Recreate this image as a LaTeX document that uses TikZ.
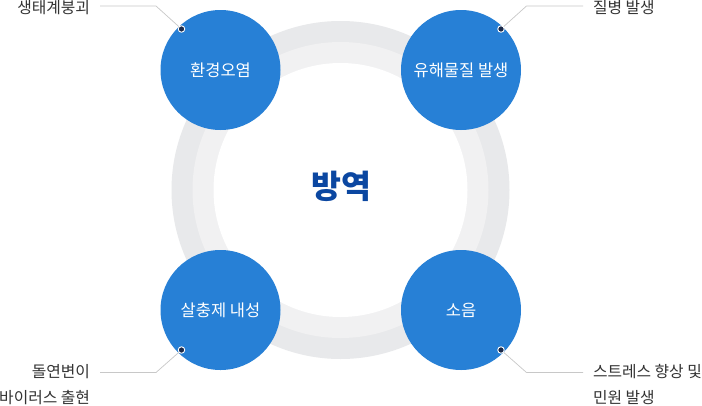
\documentclass[tikz,border=0pt]{standalone}
\usepackage{fontspec}
\setmainfont{Noto Sans CJK KR}
\usetikzlibrary{positioning}
\definecolor{ringout}{HTML}{E8E9EB}
\definecolor{ringin}{HTML}{F1F1F2}
\definecolor{topicblue}{HTML}{2780D6}
\definecolor{titleblue}{HTML}{0B47A1}
\definecolor{dotnavy}{HTML}{1B2A4A}
\definecolor{leadgray}{HTML}{C8C8C8}
\definecolor{labelink}{HTML}{333333}
\tikzset{
  topic/.style={circle,fill=topicblue,minimum size=120pt,inner sep=0pt,
                text=white,font=\fontsize{16.5}{18}\selectfont},
  tipdot/.style={circle,fill=dotnavy,draw=white,line width=0.9pt,
                 minimum size=6.5pt,inner sep=0pt},
  leader/.style={draw=leadgray,line width=0.7pt},
  sidelabel/.style={text=labelink,font=\fontsize{15.8}{26}\selectfont,
                    inner sep=0pt,outer xsep=10pt}
}

\begin{document}
\begin{tikzpicture}[x=1pt,y=-1pt]
  \useasboundingbox[fill=white] (0,0) rectangle (702,405);

  % ring
  \coordinate (ctr) at (340.5,190);
  \fill[ringout] (ctr) circle (169pt);
  \fill[ringin] (ctr) circle (148pt);
  \fill[white] (ctr) circle (127pt);
  \node[text=titleblue,font=\fontsize{32.5}{34}\selectfont\bfseries] (title) at (341,186) {방역};

  % topics
  \node[topic] (envir) at (220.5,70) {환경오염};
  \node[topic] (toxic) at (461,70) {유해물질 발생};
  \node[topic] (resist) at (220.5,310) {살충제 내성};
  \node[topic] (noise) at (461,310) {소음};

  % outer labels
  \node[sidelabel,anchor=east] (l1) at (100,8) {생태계붕괴};
  \node[sidelabel,anchor=west] (l2) at (583,8) {질병 발생};
  \node[sidelabel,anchor=east,align=right] (l3) at (100,385) {돌연변이\\바이러스 출현};
  \node[sidelabel,anchor=west,align=left] (l4) at (583,385) {스트레스 향상 및\\민원 발생};

  \coordinate (b1) at (156,6);
  \coordinate (b2) at (526.5,6);
  \coordinate (b3) at (156,372.5);
  \coordinate (b4) at (526.5,372.5);

  \coordinate (p1) at (181.5,29);
  \coordinate (p2) at (501,29);
  \coordinate (p3) at (181.5,350);
  \coordinate (p4) at (501,350);

  \draw[leader] (p1) -- (b1) -- (b1 -| l1.east);
  \draw[leader] (p2) -- (b2) -- (b2 -| l2.west);
  \draw[leader] (p3) -- (b3) -- (b3 -| l3.east);
  \draw[leader] (p4) -- (b4) -- (b4 -| l4.west);

  \node[tipdot] (d1) at (p1) {};
  \node[tipdot] (d2) at (p2) {};
  \node[tipdot] (d3) at (p3) {};
  \node[tipdot] (d4) at (p4) {};
\end{tikzpicture}
\end{document}
